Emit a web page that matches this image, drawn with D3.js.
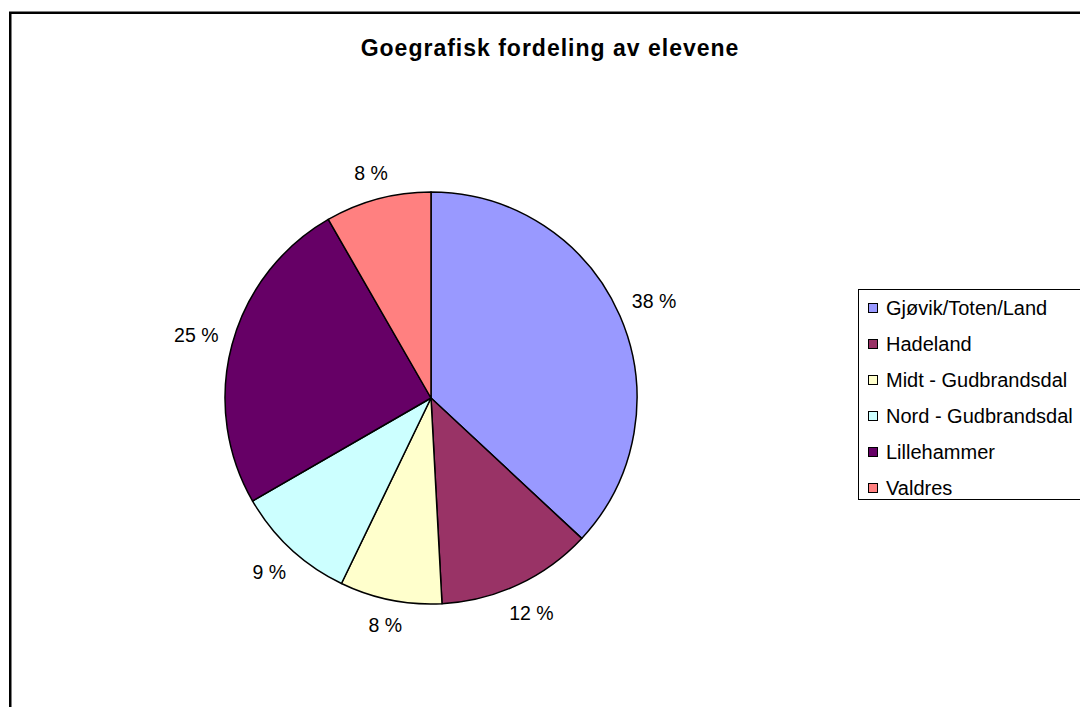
<!DOCTYPE html>
<html>
<head>
<meta charset="utf-8">
<script src="https://cdn.jsdelivr.net/npm/d3@7"></script>
<style>
  html, body { margin: 0; padding: 0; background: #fff; }
  svg { display: block; font-family: "Liberation Sans", Arial, sans-serif; }
</style>
</head>
<body>
<svg id="chart" width="1080" height="707"></svg>
<script>
const title = "Goegrafisk fordeling av elevene";
const categories = ["Gjøvik/Toten/Land", "Hadeland", "Midt - Gudbrandsdal", "Nord - Gudbrandsdal", "Lillehammer", "Valdres"];
const values = [36.9, 12.2, 8.0, 9.5, 25.0, 8.3];
const percentLabels = ["38 %", "12 %", "8 %", "9 %", "25 %", "8 %"];
const colors = ["#9999FF", "#993366", "#FFFFCC", "#CCFFFF", "#660066", "#FF8080"];

const svg = d3.select("#chart");

// outer frame
svg.append("rect")
  .attr("x", 10.25).attr("y", 12.75)
  .attr("width", 1200).attr("height", 800)
  .attr("fill", "#fff").attr("stroke", "#000").attr("stroke-width", 2.5);

// title
svg.append("text")
  .attr("x", 550).attr("y", 56)
  .attr("text-anchor", "middle")
  .attr("font-weight", "bold")
  .attr("font-size", 23)
  .attr("letter-spacing", 1.0)
  .attr("fill", "#000")
  .text(title);

const cx = 431, cy = 398, r = 206;
const pie = d3.pie().value(d => d).sort(null);
const arcs = pie(values);
const arc = d3.arc().innerRadius(0).outerRadius(r);

const g = svg.append("g").attr("transform", `translate(${cx},${cy})`);
g.selectAll("path.slice")
  .data(arcs)
  .join("path")
  .attr("class", "slice")
  .attr("d", arc)
  .attr("fill", (d, i) => colors[i])
  .attr("stroke", "#000")
  .attr("stroke-width", 1.5)
  .attr("stroke-linejoin", "round");

// labels
const fs = 19.5;
const gap = 13;
g.selectAll("text.lbl")
  .data(arcs)
  .join("text")
  .attr("class", "lbl")
  .attr("font-size", fs)
  .attr("text-anchor", "middle")
  .attr("fill", "#000")
  .text((d, i) => percentLabels[i])
  .each(function(d) {
    const w = this.getComputedTextLength();
    const h = fs;
    const a = (d.startAngle + d.endAngle) / 2;
    const dx = Math.sin(a), dy = -Math.cos(a);
    const ext = (w / 2) * Math.abs(dx) + (h / 2) * Math.abs(dy);
    const R = r + gap + ext;
    d3.select(this)
      .attr("x", R * dx)
      .attr("y", R * dy + fs * 0.35);
  });

// legend
const lg = svg.append("g");
lg.append("rect")
  .attr("x", 858.5).attr("y", 289.5)
  .attr("width", 400).attr("height", 210)
  .attr("fill", "#fff").attr("stroke", "#000").attr("stroke-width", 1);

const rowY = d3.scalePoint().domain(categories).range([308, 488]);
const rows = lg.selectAll("g.row")
  .data(categories)
  .join("g")
  .attr("class", "row")
  .attr("transform", d => `translate(0,${rowY(d)})`);
rows.append("rect")
  .attr("x", 868.5).attr("y", -4.5)
  .attr("width", 9).attr("height", 9)
  .attr("fill", (d, i) => colors[i])
  .attr("stroke", "#000").attr("stroke-width", 1);
rows.append("text")
  .attr("x", 886).attr("y", 7)
  .attr("font-size", 20)
  .attr("fill", "#000")
  .text(d => d);
</script>
</body>
</html>
